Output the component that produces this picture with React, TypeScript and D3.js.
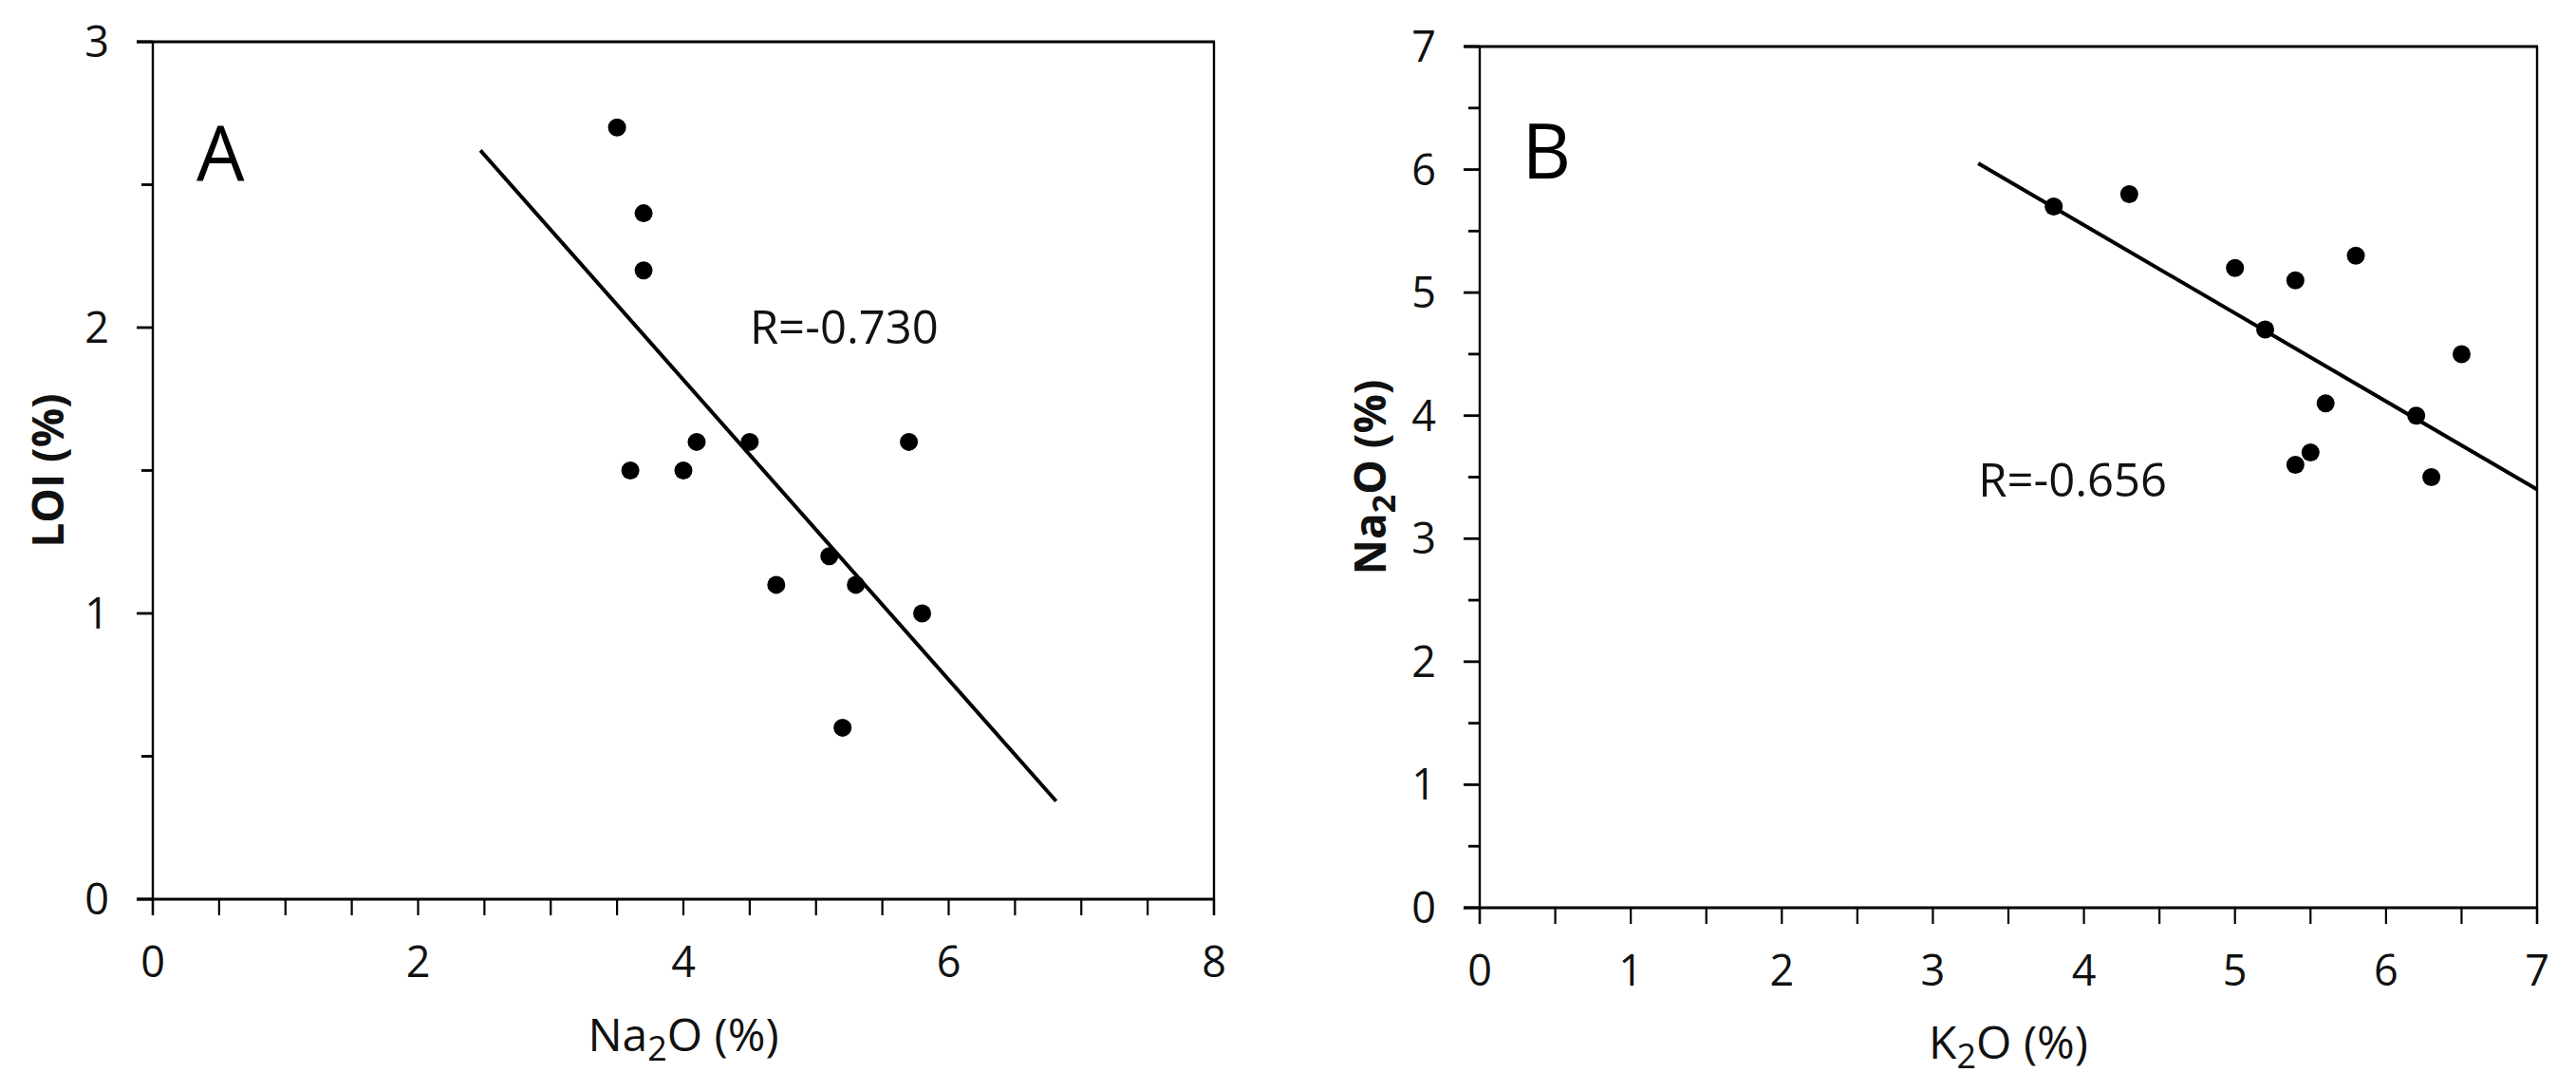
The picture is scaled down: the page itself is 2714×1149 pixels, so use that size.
import React from "react";
import * as d3 from "d3";

// ---- Panel A data: Na2O (%) vs LOI (%) ----
const naA = [3.5, 3.7, 3.7, 4.1, 4.5, 5.7, 3.6, 4.0, 5.1, 4.7, 5.3, 5.8, 5.2];
const loiA = [2.7, 2.4, 2.2, 1.6, 1.6, 1.6, 1.5, 1.5, 1.2, 1.1, 1.1, 1.0, 0.6];
const fitA = [
  { x: 2.47, y: 2.62 },
  { x: 6.81, y: 0.343 },
];
const xTicksA = [0, 2, 4, 6, 8];
const yTicksA = [0, 1, 2, 3];

// ---- Panel B data: K2O (%) vs Na2O (%) ----
const kB = [3.8, 4.3, 5.0, 5.4, 5.8, 5.2, 6.5, 5.6, 6.2, 5.5, 5.4, 6.3];
const naB = [5.7, 5.8, 5.2, 5.1, 5.3, 4.7, 4.5, 4.1, 4.0, 3.7, 3.6, 3.5];
const fitB = [
  { x: 3.3, y: 6.05 },
  { x: 7.0, y: 3.4 },
];
const xTicksB = [0, 1, 2, 3, 4, 5, 6, 7];
const yTicksB = [0, 1, 2, 3, 4, 5, 6, 7];

const FONT = "'Open Sans', 'Noto Sans', sans-serif";

type PanelProps = {
  xs: number[];
  ys: number[];
  fit: { x: number; y: number }[];
  xDomain: [number, number];
  yDomain: [number, number];
  xRange: [number, number];
  yRange: [number, number];
  xTicks: number[];
  yTicks: number[];
  letter: string;
  letterPos: [number, number];
  rText: string;
  rPos: [number, number];
  xTitle: [string, string];
  yTitle: [string, string];
  yTitleX: number;
  xTitleDy: number;
};

function Panel(p: PanelProps) {
  const x = d3.scaleLinear().domain(p.xDomain).range(p.xRange);
  const y = d3.scaleLinear().domain(p.yDomain).range(p.yRange);
  const [x0, x1] = p.xRange;
  const [y0, y1] = p.yRange; // y0 bottom, y1 top
  const xMinor = d3.range(p.xDomain[0], p.xDomain[1] + 0.001, 0.5);
  const yMinor = d3.range(p.yDomain[0], p.yDomain[1] + 0.001, 0.5).filter(
    (v) => Math.abs(v - Math.round(v)) > 0.01
  );
  const line = d3
    .line<{ x: number; y: number }>()
    .x((d) => x(d.x))
    .y((d) => y(d.y));
  const cx = (x0 + x1) / 2;
  const cy = (y0 + y1) / 2;
  return (
    <g>
      {/* frame */}
      <line x1={x0 - 17} x2={x1 + 1} y1={y1} y2={y1} stroke="#000" strokeWidth={3} />
      <line x1={x0 - 17} x2={x1 + 1} y1={y0} y2={y0} stroke="#000" strokeWidth={3} />
      <line x1={x0} x2={x0} y1={y1} y2={y0 + 17} stroke="#000" strokeWidth={2.4} />
      <line x1={x1} x2={x1} y1={y1} y2={y0 + 17} stroke="#000" strokeWidth={2.4} />
      {/* x ticks */}
      {xMinor.map((v) => (
        <line key={"xt" + v} x1={x(v)} x2={x(v)} y1={y0} y2={y0 + 17} stroke="#000" strokeWidth={2.2} />
      ))}
      {/* y ticks */}
      {p.yTicks.map((v) => (
        <line key={"ytM" + v} x1={x0 - 17} x2={x0} y1={y(v)} y2={y(v)} stroke="#000" strokeWidth={2.8} />
      ))}
      {yMinor.map((v) => (
        <line key={"ytm" + v} x1={x0 - 12} x2={x0} y1={y(v)} y2={y(v)} stroke="#000" strokeWidth={2.8} />
      ))}
      {/* tick labels */}
      {p.xTicks.map((v) => (
        <text key={"xl" + v} x={x(v)} y={y0 + 82} textAnchor="middle" fontSize={45} fontFamily={FONT} fill="#111">
          {v}
        </text>
      ))}
      {p.yTicks.map((v) => (
        <text
          key={"yl" + v}
          x={x0 - 46}
          y={y(v) + 16}
          textAnchor="end"
          fontSize={45}
          fontFamily={FONT}
          fill="#111"
        >
          {v}
        </text>
      ))}
      {/* axis titles */}
      <text x={cx} y={y0 + p.xTitleDy} textAnchor="middle" fontSize={48} fontFamily={FONT} fill="#111">
        {p.xTitle[0]}
        <tspan fontSize={36} dy={10}>2</tspan>
        <tspan dy={-10}>{p.xTitle[1]}</tspan>
      </text>
      <text
        transform={`translate(${p.yTitleX},${cy}) rotate(-90)`}
        textAnchor="middle"
        fontSize={46}
        fontWeight="bold"
        fontFamily={FONT}
        fill="#111"
      >
        {p.yTitle[1] === "" ? (
          p.yTitle[0]
        ) : (
          <>
            {p.yTitle[0]}
            <tspan fontSize={34} dy={10}>2</tspan>
            <tspan dy={-10}>{p.yTitle[1]}</tspan>
          </>
        )}
      </text>
      {/* fit line */}
      <path d={line(p.fit) || ""} fill="none" stroke="#000" strokeWidth={4} />
      {/* points */}
      {p.xs.map((v, i) => (
        <circle key={"pt" + i} cx={x(v)} cy={y(p.ys[i])} r={9.5} fill="#000" />
      ))}
      {/* annotations */}
      <text x={x(p.letterPos[0])} y={y(p.letterPos[1])} fontSize={80} fontFamily={FONT} fill="#000">
        {p.letter}
      </text>
      <text x={x(p.rPos[0])} y={y(p.rPos[1])} fontSize={49} fontFamily={FONT} fill="#111">
        {p.rText}
      </text>
    </g>
  );
}

export default function App() {
  return (
    <svg
      width={2714}
      height={1149}
      style={{ position: "absolute", left: 0, top: 0, background: "#fff" }}
    >
      <rect x={0} y={0} width={2714} height={1149} fill="#fff" />
      <Panel
        xs={naA}
        ys={loiA}
        fit={fitA}
        xDomain={[0, 8]}
        yDomain={[0, 3]}
        xRange={[161, 1279]}
        yRange={[947, 44]}
        xTicks={xTicksA}
        yTicks={yTicksA}
        letter="A"
        letterPos={[0.33, 2.515]}
        rText="R=-0.730"
        rPos={[4.5, 1.944]}
        xTitle={["Na", "O (%)"]}
        yTitle={["LOI (%)", ""]}
        yTitleX={67}
        xTitleDy={160}
      />
      <Panel
        xs={kB}
        ys={naB}
        fit={fitB}
        xDomain={[0, 7]}
        yDomain={[0, 7]}
        xRange={[1559, 2673]}
        yRange={[956, 49]}
        xTicks={xTicksB}
        yTicks={yTicksB}
        letter="B"
        letterPos={[0.28, 5.93]}
        rText="R=-0.656"
        rPos={[3.3, 3.34]}
        xTitle={["K", "O (%)"]}
        yTitle={["Na", "O (%)"]}
        yTitleX={1460}
        xTitleDy={159}
      />
    </svg>
  );
}
